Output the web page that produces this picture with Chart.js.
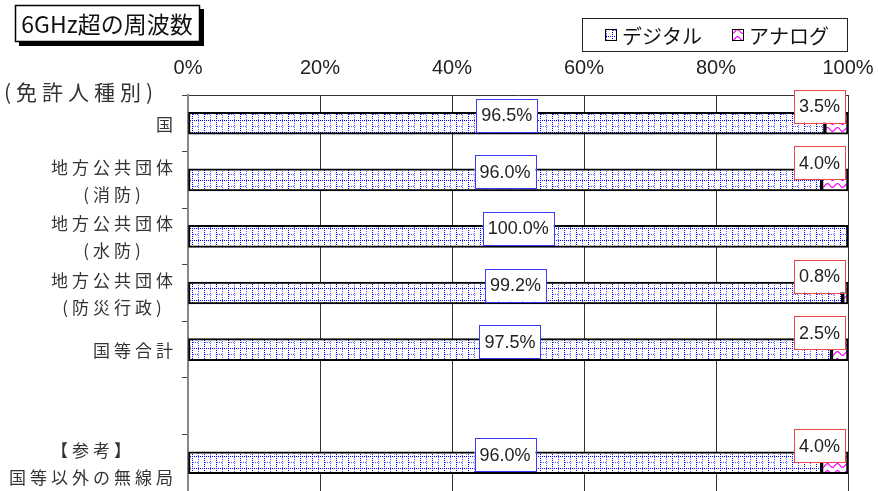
<!DOCTYPE html>
<html>
<head>
<meta charset="utf-8">
<script src="https://cdn.jsdelivr.net/npm/chart.js@4"></script>
<style>
  body { margin: 0; background: #fff; }
  #wrap { width: 878px; height: 491px; position: relative; }
</style>
</head>
<body>
<div id="wrap"><canvas id="barChart"></canvas></div>
<script>
// datos del grafico
const categorias = ['国', ['地方公共団体', '(消防)'], ['地方公共団体', '(水防)'], ['地方公共団体', '(防災行政)'], '国等合計', '', ['【参考】', '国等以外の無線局']];
const digital = [96.5, 96.0, 100.0, 99.2, 97.5, null, 96.0];
const analog = [3.5, 4.0, 0, 0.8, 2.5, null, 4.0];
const xTicks = [0, 20, 40, 60, 80, 100];
const serieNombres = ['デジタル', 'アナログ'];

const CJK = '"Noto Sans CJK JP", "Noto Sans", sans-serif';
const LAT = '"Liberation Sans", Arial, sans-serif';

// patrones de relleno
function patronDigital() {
  const c = document.createElement('canvas');
  c.width = 12; c.height = 12;
  const g = c.getContext('2d');
  g.fillStyle = '#fff';
  g.fillRect(0, 0, 12, 12);
  g.fillStyle = '#0000ff';
  for (let x = 0; x < 12; x += 2) g.fillRect(x, 0, 1, 1);
  for (let y = 0; y < 12; y += 2) g.fillRect(0, y, 1, 1);
  g.fillStyle = '#5a5aff';
  for (let y = 1; y < 12; y += 2) g.fillRect(6, y, 1, 1);
  for (let x = 1; x < 6; x += 2) g.fillRect(x, 6, 1, 1);
  return g.createPattern(c, 'repeat');
}

function patronAnalog() {
  const c = document.createElement('canvas');
  c.width = 10; c.height = 7;
  const g = c.getContext('2d');
  g.fillStyle = '#fff';
  g.fillRect(0, 0, 10, 7);
  g.strokeStyle = '#ff00ff';
  g.lineWidth = 1.2;
  g.beginPath();
  for (let x = 0; x <= 10; x++) {
    const y = 3.5 + 2 * Math.sin(x / 10 * Math.PI * 2);
    if (x === 0) g.moveTo(x, y); else g.lineTo(x, y);
  }
  g.stroke();
  return g.createPattern(c, 'repeat');
}

const pDig = patronDigital();
const pAna = patronAnalog();

// etiquetas, titulo y leyenda
const extrasPlugin = {
  id: 'extras',
  afterDatasetsDraw(chart) {
    const ctx = chart.ctx;
    const xs = chart.scales.x;
    ctx.save();
    ctx.font = '18px ' + LAT;
    ctx.textAlign = 'center';
    ctx.textBaseline = 'middle';
    chart.data.datasets.forEach((ds, di) => {
      const meta = chart.getDatasetMeta(di);
      meta.data.forEach((bar, i) => {
        const v = ds.data[i];
        if (!v) return;
        const txt = v.toFixed(1) + '%';
        const w = ctx.measureText(txt).width + 10, h = 33;
        let cx, cy;
        if (di === 0) { cx = (bar.x + bar.base) / 2; cy = bar.y - 8; }
        else { cx = xs.right - 3 - w / 2; cy = bar.y - 17; }
        ctx.fillStyle = '#fff';
        ctx.fillRect(cx - w / 2, cy - h / 2, w, h);
        ctx.strokeStyle = di === 0 ? '#3a3aff' : '#f04848';
        ctx.lineWidth = 1;
        ctx.strokeRect(Math.round(cx - w / 2) + 0.5, Math.round(cy - h / 2) + 0.5, Math.round(w), h);
        ctx.fillStyle = '#222';
        ctx.fillText(txt, cx, cy + 1);
      });
    });
    ctx.restore();
  },
  afterDraw(chart) {
    const ctx = chart.ctx;
    const ys = chart.scales.y;
    ctx.save();

    // etiquetas del eje y
    ctx.font = '17px ' + CJK;
    ctx.letterSpacing = '4px';
    ctx.textAlign = 'left';
    ctx.textBaseline = 'middle';
    ctx.fillStyle = '#333';
    const ancho = s => {
      ctx.letterSpacing = '0px';
      const w = ctx.measureText(s).width + 4 * (s.length - 1);
      ctx.letterSpacing = '4px';
      return w;
    };
    categorias.forEach((lab, i) => {
      const lineas = Array.isArray(lab) ? lab : [lab];
      if (!lineas[0]) return;
      const y0 = ys.getPixelForValue(i);
      const maxW = Math.max(...lineas.map(ancho));
      const centro = 173 - maxW / 2;
      const lh = 27;
      lineas.forEach((l, k) => {
        const y = y0 + (k - (lineas.length - 1) / 2) * lh + 1;
        ctx.fillText(l, centro - ancho(l) / 2, y);
      });
    });

    ctx.font = '21px ' + CJK;
    ctx.letterSpacing = '5px';
    ctx.fillText('(免許人種別)', 4, 92);
    ctx.letterSpacing = '0px';

    // titulo
    ctx.fillStyle = '#000';
    ctx.fillRect(19, 9, 185, 37);
    ctx.fillStyle = '#fff';
    ctx.fillRect(15, 5, 185, 37);
    ctx.strokeStyle = '#000';
    ctx.lineWidth = 1.5;
    ctx.strokeRect(15.5, 5.5, 184, 36);
    ctx.fillStyle = '#111';
    ctx.font = '23px ' + CJK;
    ctx.textAlign = 'center';
    ctx.fillText('6GHz超の周波数', 107, 24);

    // leyenda
    ctx.fillStyle = '#fff';
    ctx.fillRect(582, 18, 266, 34);
    ctx.strokeStyle = '#222';
    ctx.lineWidth = 1;
    ctx.strokeRect(582.5, 18.5, 265, 33);
    ctx.font = '20px ' + CJK;
    ctx.textAlign = 'left';
    const items = [[605, pDig], [732, pAna]];
    items.forEach((it, k) => {
      ctx.fillStyle = it[1];
      ctx.fillRect(it[0], 29, 12, 12);
      ctx.strokeStyle = '#000';
      ctx.strokeRect(it[0] + 0.5, 29.5, 11, 11);
      ctx.fillStyle = '#111';
      ctx.fillText(serieNombres[k], it[0] + 17, 36);
    });
    ctx.restore();
  }
};

new Chart(document.getElementById('barChart').getContext('2d'), {
  type: 'bar',
  data: {
    labels: categorias,
    datasets: [
      { label: serieNombres[0], data: digital, backgroundColor: pDig, borderColor: '#000', borderWidth: 2, borderSkipped: false, barThickness: 22 },
      { label: serieNombres[1], data: analog, backgroundColor: pAna, borderColor: '#000', borderWidth: 2, borderSkipped: false, barThickness: 22 }
    ]
  },
  options: {
    indexAxis: 'y',
    responsive: true,
    maintainAspectRatio: false,
    animation: false,
    layout: { padding: { left: 0, right: 30, top: 0, bottom: 0 } },
    plugins: { legend: { display: false }, tooltip: { enabled: false } },
    scales: {
      x: {
        position: 'top',
        stacked: true,
        min: 0,
        max: 100,
        afterBuildTicks: s => { s.ticks = xTicks.map(v => ({ value: v })); },
        afterFit: s => { s.height = 95; s.paddingLeft = 0; s.paddingRight = 0; },
        ticks: {
          callback: v => v + '%',
          font: { family: LAT, size: 20 },
          color: '#222',
          padding: 15,
          maxRotation: 0
        },
        grid: { color: '#333', drawTicks: false },
        border: { color: '#333', width: 1 }
      },
      y: {
        stacked: true,
        offset: true,
        afterFit: s => { s.width = 188; },
        ticks: { display: false },
        grid: { drawOnChartArea: false, drawTicks: true, tickLength: 6, color: '#444', offset: true },
        border: { color: '#888', width: 2 }
      }
    }
  },
  plugins: [extrasPlugin]
});
</script>
</body>
</html>
